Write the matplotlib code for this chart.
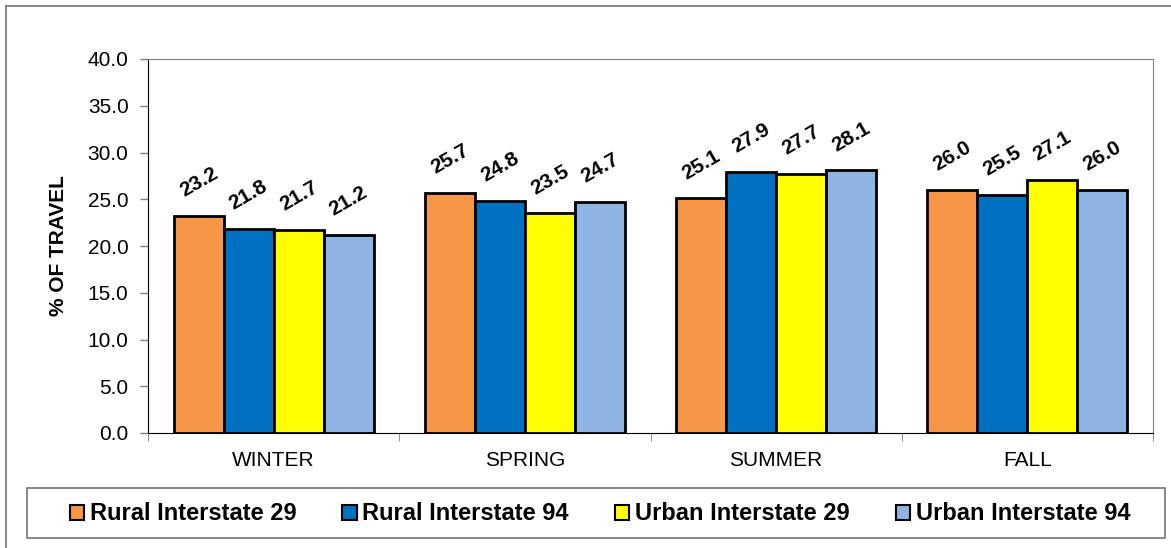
import numpy as np
import matplotlib.pyplot as plt
from matplotlib.patches import Rectangle, Patch
from matplotlib.lines import Line2D

seasons = ["WINTER", "SPRING", "SUMMER", "FALL"]
series = ["Rural Interstate 29", "Rural Interstate 94", "Urban Interstate 29", "Urban Interstate 94"]
rural_29 = [23.2, 25.7, 25.1, 26.0]
rural_94 = [21.8, 24.8, 27.9, 25.5]
urban_29 = [21.7, 23.5, 27.7, 27.1]
urban_94 = [21.2, 24.7, 28.1, 26.0]
colors = ["#F79646", "#0070C0", "#FFFF00", "#8EB4E3"]

plt.rcParams['font.family'] = ['Liberation Sans', 'DejaVu Sans']

W, H = 1171, 548
fig = plt.figure(figsize=(W / 100, H / 100), dpi=100)
ax = fig.add_axes([148 / W, 1 - 433 / H, (1153 - 148) / W, (433 - 59) / H])

# outer frame: only the left and top edges fall inside the canvas
fig.add_artist(Line2D([6 / W, 6 / W], [0, 1 - 6 / H], transform=fig.transFigure,
                      color="#808080", linewidth=1.3))
fig.add_artist(Line2D([6 / W, 1], [1 - 6 / H, 1 - 6 / H], transform=fig.transFigure,
                      color="#808080", linewidth=1.3))

x = np.arange(len(seasons))
width = 0.199
data = [rural_29, rural_94, urban_29, urban_94]
for i, vals in enumerate(data):
    pos = x + (i - 1.5) * width
    ax.bar(pos, vals, width, color=colors[i], edgecolor="black", linewidth=2, zorder=3)
    for px, v in zip(pos, vals):
        ax.text(px, v + 3.6, f"{v:.1f}", rotation=30, ha="center", va="center",
                fontsize=15, fontweight="bold", rotation_mode="anchor")

ax.set_xlim(-0.5, 3.5)
ax.set_ylim(0, 40)
yt = np.arange(0, 40.1, 5)
ax.set_yticks(yt)
ax.set_yticklabels([f"{t:.1f}" for t in yt], fontsize=15)
ax.set_xticks(x)
ax.set_xticklabels(seasons, fontsize=15)
ax.tick_params(axis="x", length=0, pad=13)
ax.set_xticks(np.arange(-0.5, 3.6, 1), minor=True)
ax.tick_params(axis="x", which="minor", length=6, color="#808080", direction="out")
ax.tick_params(axis="y", length=6, direction="out", width=1, color="#808080", pad=8)
ax.set_ylabel("% OF TRAVEL", fontsize=15, fontweight="bold", labelpad=14)

ax.spines["left"].set_color("black")
ax.spines["bottom"].set_color("black")
ax.spines["top"].set_color("#808080")
ax.spines["right"].set_color("#808080")

# legend box drawn separately so its padding can be wide
fig.patches.append(Rectangle((27 / W, 1 - 538 / H), (1165 - 27) / W, 50 / H,
                             transform=fig.transFigure, fill=False,
                             edgecolor="#808080", linewidth=1.3))
handles = [Patch(facecolor=c, edgecolor="black", linewidth=1.5) for c in colors]
fig.legend(handles, series, loc="center", ncol=4,
           bbox_to_anchor=(600 / W, 1 - 514 / H),
           prop={"weight": "bold", "size": 17}, frameon=False,
           handlelength=0.6, handleheight=0.6, handletextpad=0.25, columnspacing=1.95)

fig.savefig("out.png", dpi=100)
